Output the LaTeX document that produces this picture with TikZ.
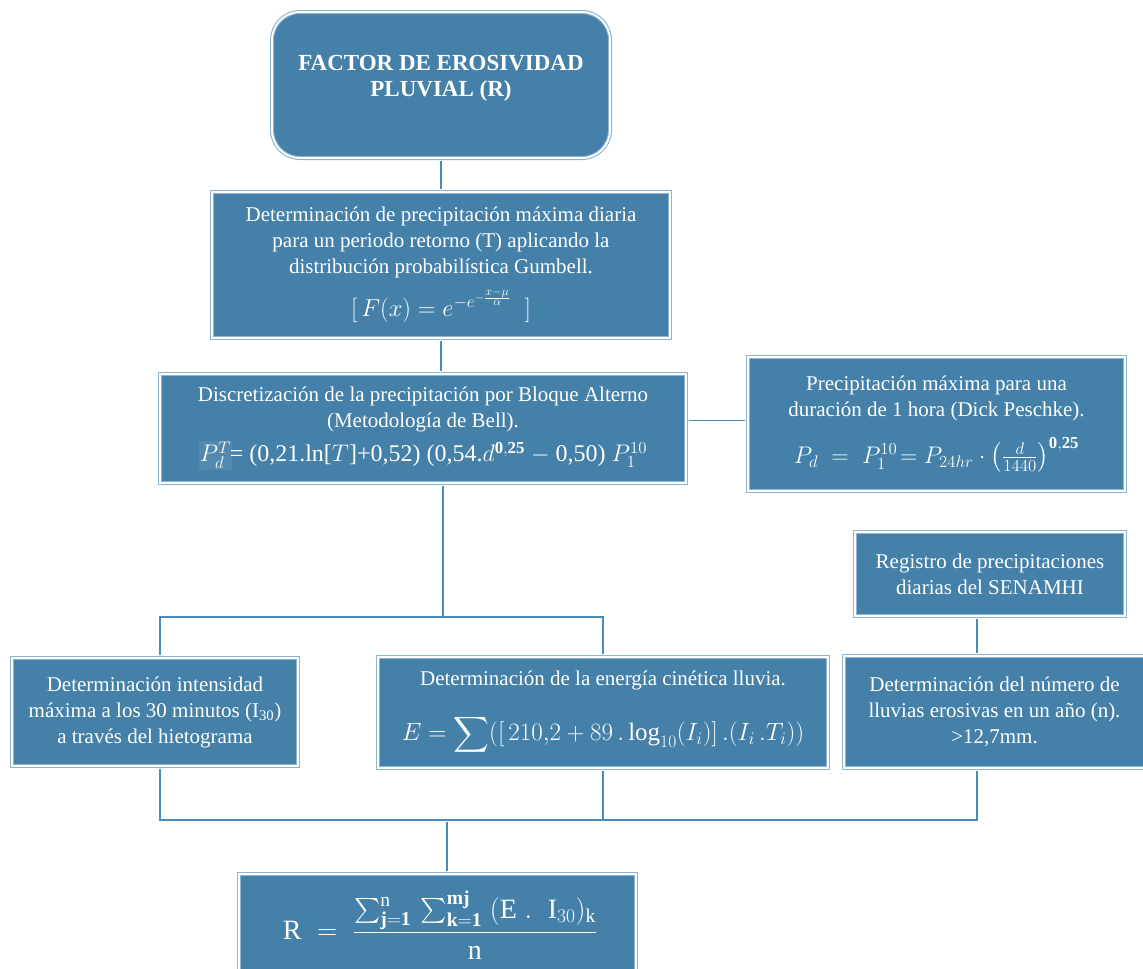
\RequirePackage{fix-cm}
\documentclass[tikz,border=0pt]{standalone}
\usepackage{amsmath}
\usepackage{fontspec}
\setmainfont{Liberation Serif}
\usetikzlibrary{calc}

\definecolor{boxfill}{HTML}{4580A8}
\definecolor{boxedge}{HTML}{8DB4D2}
\definecolor{wire}{HTML}{4A8BBA}

\tikzset{
  stepbox/.style={draw=boxedge, line width=1.1pt, double=white, double distance=1.8pt,
    fill=boxfill, text=white, align=center, inner sep=0pt,
    font=\fontsize{21}{26}\selectfont},
  labeltext/.style={text=white, align=center, inner sep=0pt},
  link/.style={draw=wire, line width=1.6pt, shorten <=2pt, shorten >=2pt},
  linkin/.style={draw=wire, line width=1.6pt, shorten <=2pt},
}

\begin{document}
\begin{tikzpicture}[x=1pt, y=-1pt]
\useasboundingbox (0,0) rectangle (1143,969);

% title block
\node[stepbox, rounded corners=28pt, minimum width=338pt, minimum height=146pt] (title) at (441,85) {};
\node[labeltext, font=\fontsize{23}{26}\selectfont\bfseries] (titletext) at (441,78)
  {FACTOR DE EROSIVIDAD\\PLUVIAL (R)};

% Gumbel distribution
\node[stepbox, minimum width=458pt, minimum height=146pt] (gumbel) at (441,265)
  {Determinación de precipitación máxima diaria\\
   para un periodo retorno (T) aplicando la\\
   distribución probabilística Gumbell.\\[9pt]
   {\fontsize{24.5}{26}\selectfont $[\,F(x) = e^{-e^{-\frac{x-\mu}{\alpha}}}\;\;]$}};

% alternating block
\node[stepbox, minimum width=526pt, minimum height=109pt] (disc) at (423,428.5)
  {Discretización de la precipitación por Bloque Alterno\\
   (Metodología de Bell).\\[8pt]
   {\fontsize{24}{26}\selectfont{\setlength\fboxsep{1pt}\colorbox{boxfill!93!white}{$P_d^T$}}\kern-2pt= (0,21.ln[$T$]+0,52) (0,54.$d^{\mathbf{0,25}}$ $-$ 0,50) $P_1^{10}$}};

% Dick Peschke
\node[stepbox, minimum width=377pt, minimum height=134pt] (pesch) at (936.5,424)
  {Precipitación máxima para una\\
   duración de 1 hora (Dick Peschke).\\[16pt]
   {\fontsize{24}{26}\selectfont $P_d\;=\;P_1^{10}\!=P_{24hr}\cdot\left(\frac{d}{1440}\right)^{\mathbf{0,25}}$}};

% SENAMHI record
\node[stepbox, minimum width=270pt, minimum height=84pt] (senamhi) at (990,574)
  {Registro de precipitaciones\\diarias del SENAMHI};

% third row
\node[stepbox, minimum width=286pt, minimum height=108pt] (inten) at (155,712)
  {Determinación intensidad\\
   máxima a los 30 minutos (I\textsubscript{30})\\
   a través del hietograma};

\node[stepbox, minimum width=450pt, minimum height=111pt] (energy) at (603,712.5)
  {Determinación de la energía cinética lluvia.\\[24pt]
   {\fontsize{25}{26}\selectfont $E = \displaystyle\sum([\,210{,}2 + 89\,.\log_{10}(I_i)]\,.(I_i\,.T_i))$}};

\node[stepbox, minimum width=301pt, minimum height=112pt] (count) at (994.5,712)
  {Determinación del número de\\
   lluvias erosivas en un año (n).\\
   >12,7mm.};

% result
\node[stepbox, minimum width=397pt, minimum height=116pt] (result) at (437.5,932) {};
\node[labeltext, font=\fontsize{28}{30}\selectfont] (resulttext) at (440,925)
  {$\mathrm{R}\;=\;\dfrac{\sum_{\mathbf{j=1}}^{\mathrm{n}}\,\sum_{\mathbf{k=1}}^{\mathbf{mj}}\;(\mathrm{E}\;.\;\;\mathrm{I}_{30})_{\mathrm{k}}}{\mathrm{n}}$};

% junction points
\coordinate (split) at (443,617);
\coordinate (merge) at (447,820);
\coordinate (leftx) at (160,0);
\coordinate (rightx) at (977,0);

% connectors
\draw[link] (title.south) -- (gumbel.north);
\draw[link] (gumbel.south) -- (gumbel.south |- disc.north);
\draw[link] ([yshift=8pt]disc.east) -- ([yshift=8pt]disc.east -| pesch.west);
\draw[link] (senamhi.south -| rightx) -- (count.north -| rightx);

\draw[linkin] (split |- disc.south) -- (split);
\draw[link] (inten.north -| leftx) |- (split) -| (energy.north);

\draw[linkin] (inten.south -| leftx) |- (merge);
\draw[linkin] (energy.south) -- (energy.south |- merge);
\draw[linkin] (count.south -| rightx) |- (merge);
\draw[link] (merge) -- (merge |- result.north);
\end{tikzpicture}
\end{document}
